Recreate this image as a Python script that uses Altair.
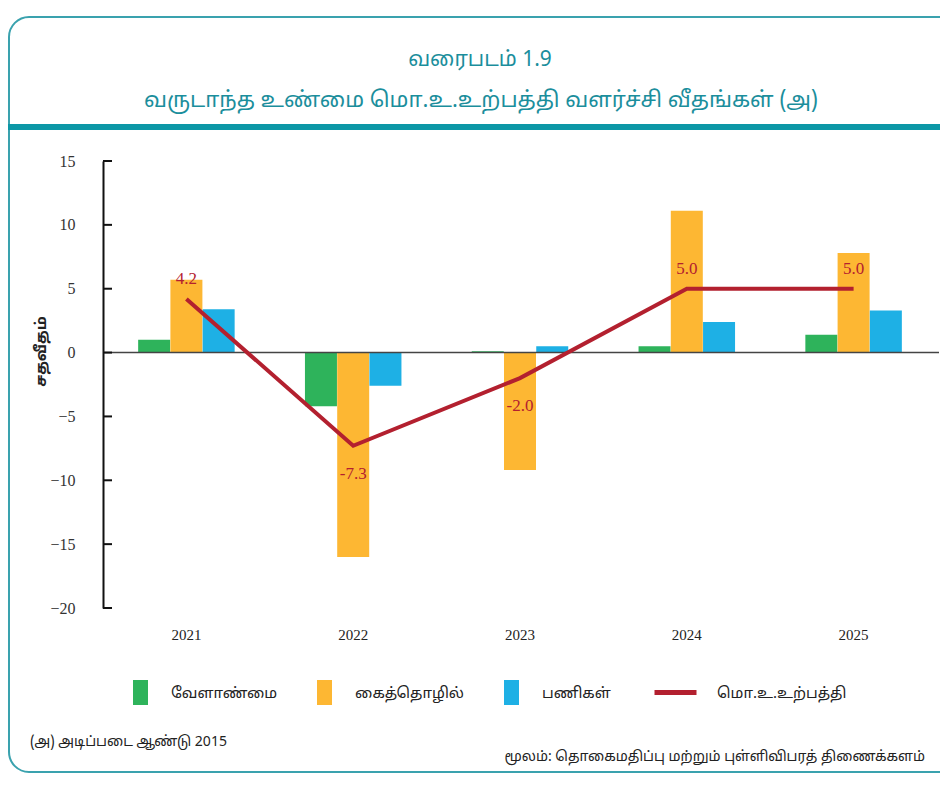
import altair as alt
import pandas as pd

# ---------------- data ----------------
years = ["2021", "2022", "2023", "2024", "2025"]
agriculture = [1.0, -4.2, 0.1, 0.5, 1.4]
industry = [5.7, -16.0, -9.2, 11.1, 7.8]
services = [3.4, -2.6, 0.5, 2.4, 3.3]
gdp = [4.2, -7.3, -2.0, 5.0, 5.0]

bar_series = ["வேளாண்மை", "கைத்தொழில்", "பணிகள்"]
line_series = "மொ.உ.உற்பத்தி"
bar_colors = ["#2EB35B", "#FDB733", "#1EB0E5"]
line_color = "#B3202F"
y_ticks = [-20, -15, -10, -5, 0, 5, 10, 15]

title_line1 = "வரைபடம் 1.9"
title_line2 = "வருடாந்த உண்மை மொ.உ.உற்பத்தி வளர்ச்சி வீதங்கள் (அ)"
y_title = "சதவீதம்"
footnote = "(அ) அடிப்படை ஆண்டு 2015"
source = "மூலம்: தொகைமதிப்பு மற்றும் புள்ளிவிபரத் திணைக்களம்"

TAMIL = "Noto Sans Tamil, Latha, Noto Sans, sans-serif"
SERIF = "Liberation Serif, Times New Roman, serif"
TEAL = "#1B8E9C"

W, H = 834, 447

# ---------------- tables ----------------
rows = []
for s, vals in zip(bar_series, [agriculture, industry, services]):
    for y, v in zip(years, vals):
        rows.append({"year": y, "series": s, "value": v})
bars_df = pd.DataFrame(rows)
line_df = pd.DataFrame({"year": years, "value": gdp, "series": line_series})
line_df["label"] = [f"{v:.1f}" for v in gdp]
ticks_df = pd.DataFrame({"v": y_ticks})

yscale = alt.Scale(domain=[-20, 15], nice=False, zero=False)
xscale = alt.Scale(domain=years, paddingInner=0.42, paddingOuter=0.21)

X = alt.X("year:N", scale=xscale, sort=years,
          axis=alt.Axis(title=None, domain=False, ticks=False, labelAngle=0,
                        labelFont=SERIF, labelFontSize=15, labelColor="#222",
                        labelPadding=19))
Y = alt.Y("value:Q", scale=yscale,
          axis=alt.Axis(values=y_ticks, grid=False, ticks=False, domain=True,
                        domainColor="#111", domainWidth=2,
                        labelFont=SERIF, labelFontSize=16, labelColor="#333",
                        labelPadding=28, title=y_title, titleFont=TAMIL,
                        titleFontSize=15, titleFontWeight="bold", titleColor="#222",
                        titleAngle=270, titleX=-63, titleY=190,
                        titleAlign="center", titleBaseline="middle"))

one = pd.DataFrame({"a": [0]})

frame = alt.Chart(one).mark_rect(
    fillOpacity=0, stroke="#3AA2AE", strokeWidth=2, cornerRadius=20
).encode(x=alt.value(-94), x2=alt.value(860), y=alt.value(-144), y2=alt.value(611))

band = alt.Chart(one).mark_rect(fill="#0C97A6").encode(
    x=alt.value(-95), x2=alt.value(860), y=alt.value(-37), y2=alt.value(-31))

bars = alt.Chart(bars_df).mark_bar(size=32).encode(
    x=X,
    xOffset=alt.XOffset("series:N", sort=bar_series, scale=alt.Scale(paddingInner=0)),
    y=Y,
    color=alt.Color("series:N", sort=bar_series,
                    scale=alt.Scale(domain=bar_series, range=bar_colors),
                    legend=alt.Legend(orient="none", legendX=25, legendY=519,
                                      direction="horizontal", title=None,
                                      symbolType="M-0.6,-1H0.6V1H-0.6Z",
                                      symbolSize=625, symbolStrokeWidth=0,
                                      symbolOpacity=1,
                                      labelFont=TAMIL, labelFontSize=15,
                                      labelColor="#222", labelOffset=18,
                                      columnPadding=34)),
)

zero = alt.Chart(pd.DataFrame({"value": [0]})).mark_rule(
    color="#444", strokeWidth=1.5).encode(y=alt.Y("value:Q", scale=yscale),
                                          x=alt.value(0), x2=alt.value(W + 2))

tick_marks = alt.Chart(ticks_df).mark_rule(color="#111", strokeWidth=2).encode(
    y=alt.Y("v:Q", scale=yscale), x=alt.value(0), x2=alt.value(9))

line = alt.Chart(line_df).mark_line(strokeWidth=4).encode(
    x=alt.X("year:N", scale=xscale, sort=years),
    y=alt.Y("value:Q", scale=yscale),
    color=alt.Color("series:N",
                    scale=alt.Scale(domain=[line_series], range=[line_color]),
                    legend=alt.Legend(orient="none", legendX=549, legendY=508,
                                      title=None, symbolType="stroke",
                                      symbolSize=1764, symbolStrokeWidth=5,
                                      labelFont=TAMIL, labelFontSize=15,
                                      labelColor="#222", labelOffset=18)),
)

lab_pos = alt.Chart(line_df).transform_filter("datum.value >= 0").mark_text(
    font=SERIF, fontSize=17, color=line_color, dy=-20).encode(
    x=alt.X("year:N", scale=xscale, sort=years),
    y=alt.Y("value:Q", scale=yscale), text="label:N")
lab_neg = alt.Chart(line_df).transform_filter("datum.value < 0").mark_text(
    font=SERIF, fontSize=17, color=line_color, dy=28).encode(
    x=alt.X("year:N", scale=xscale, sort=years),
    y=alt.Y("value:Q", scale=yscale), text="label:N")


def txt(s, x, y, size, color, align="center", weight="normal", style="normal"):
    return alt.Chart(pd.DataFrame({"t": [s]})).mark_text(
        font=TAMIL, fontSize=size, color=color, align=align,
        baseline="middle", fontWeight=weight, fontStyle=style
    ).encode(text="t:N", x=alt.value(x), y=alt.value(y))


t1 = txt(title_line1, 377, -101, 21, TEAL)
t2 = txt(title_line2, 378, -61, 22, TEAL)
f1 = txt(footnote, -73, 581, 14, "#222", align="left")
f2 = txt(source, 822, 596, 14, "#222", align="right")

chart = alt.layer(
    frame, band, bars, zero, tick_marks, line, lab_pos, lab_neg, t1, t2, f1, f2
).resolve_scale(color="independent").properties(
    width=W, height=H,
    autosize=alt.AutoSizeParams(type="none"),
    padding={"left": 95, "top": 153, "right": 3, "bottom": 167},
).configure(background="white", view=alt.ViewConfig(stroke=None))

chart.save("out.html", embed_options={"renderer": "svg", "actions": False})
